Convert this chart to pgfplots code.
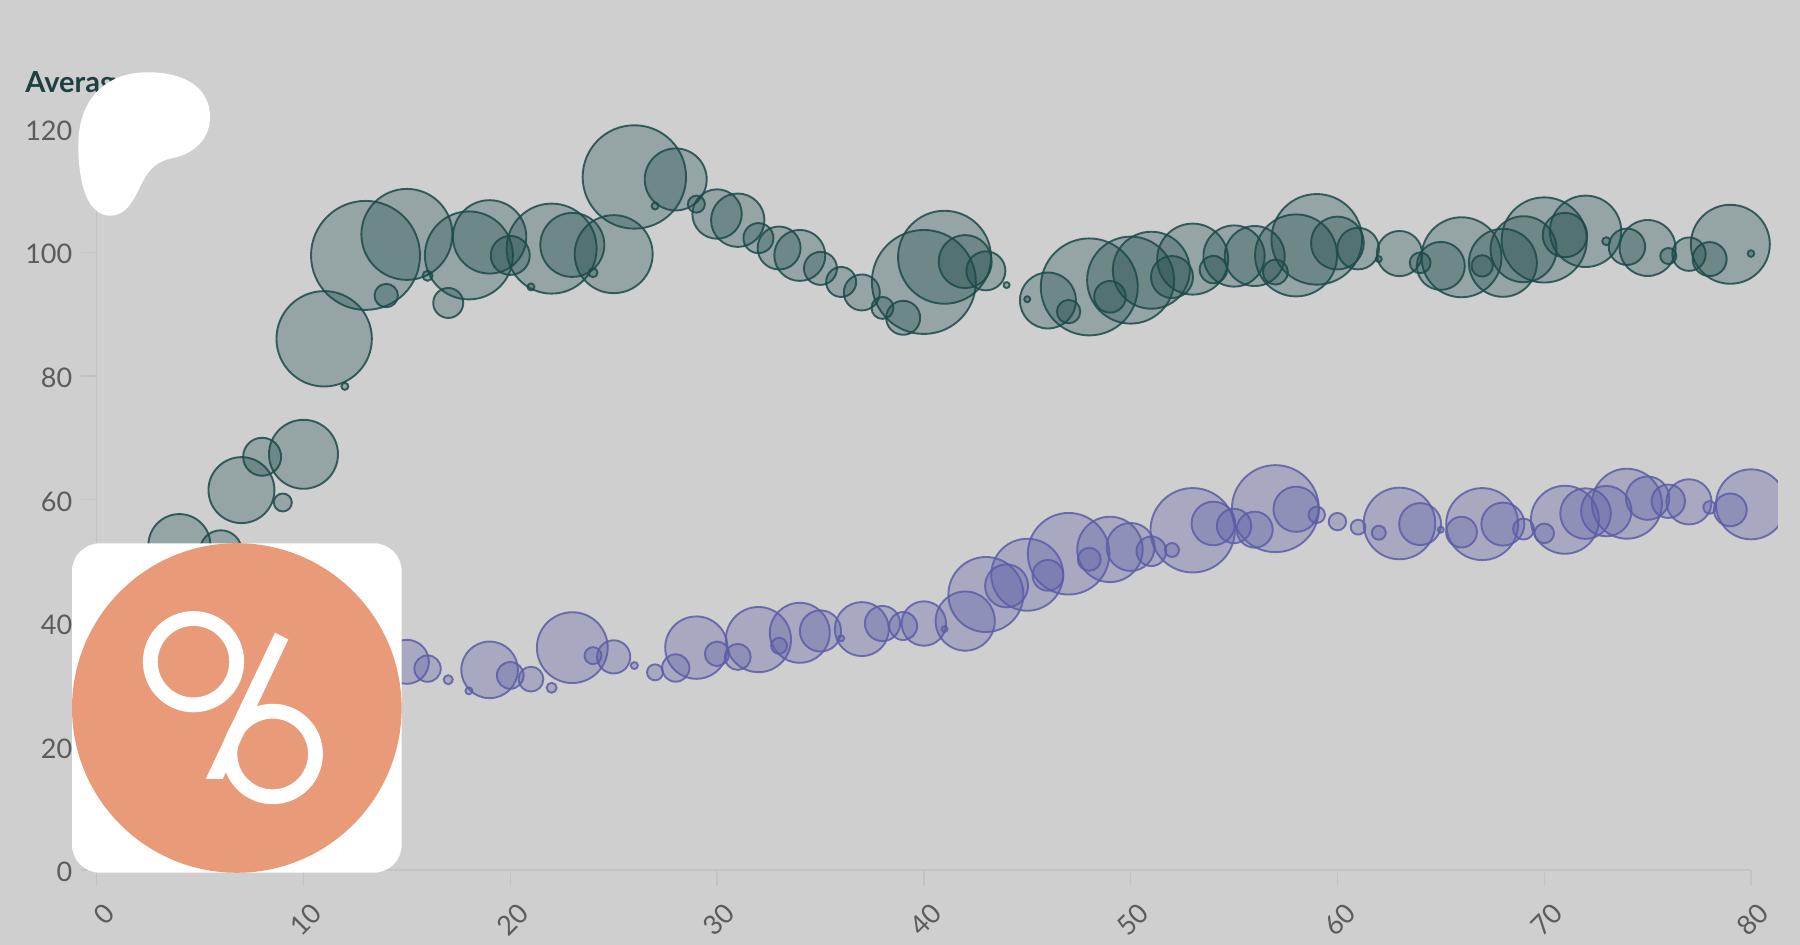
\documentclass[border=0pt]{standalone}
\usepackage{fontspec}
\setmainfont{Lato}
\usepackage{pgfplots}
\usepackage{pgfplotstable}
\pgfplotsset{compat=1.18}
\definecolor{bgc}{HTML}{CFCFCF}
\definecolor{axc}{HTML}{C3C3C3}
\definecolor{txc}{HTML}{5C5C5C}
\definecolor{titlec}{HTML}{1D4040}
\definecolor{greenS}{HTML}{1D4A4A}
\definecolor{purpS}{HTML}{5B5EA6}
\definecolor{logoc}{HTML}{E99A78}
\pgfplotstableread{
x y r
4 52.6 31
6 51.6 21
7 61.5 33
8 66.9 19
9 59.5 9
10 67.3 34.5
11 86 47.7
12 78.3 3.5
13 99.5 54.5
14 93 11.7
15 102.9 45.5
16 96.2 5
17 91.8 15
18 99.5 44
19 102.5 36.7
20 99.5 19.5
21 94.4 3.5
22 100.6 45
23 101.2 32
24 96.7 4.5
25 99.7 39
26 112.2 51.7
27 107.5 3.5
28 111.8 31
29 107.8 8.5
30 106.2 24.7
31 105.2 26.7
32 102.3 15
33 100.7 21.5
34 99.5 25.5
35 97.4 16.5
36 95.2 15
37 93.5 18
38 91 11
39 89.4 17
40 95.2 52
41 99.2 46.5
42 98.5 26.5
43 97 19.5
44 94.7 3
45 92.4 3
46 92.2 28
47 90.4 11.7
48 94.4 48.5
49 92.8 15.8
50 95.5 43.5
51 97.1 38.5
52 96 21
53 98.9 35.5
54 97.2 13.7
55 99.4 30.6
56 99.4 30
57 96.8 12.5
58 99.5 41
59 102.1 45.3
60 101.5 26.4
61 100.6 20.8
62 98.9 3
63 99.8 22.6
64 98.3 10.4
65 97.8 24
66 99.2 40
67 97.8 10.7
68 98.3 34
69 100.5 33
70 102 42.6
71 102.8 22.2
72 103.4 35.7
73 101.8 4
74 100.9 18.2
75 100.7 28
76 99.4 8
77 99.7 16.7
78 98.9 17
79 101.3 39.5
80 99.8 3.3
}\greentable
\pgfplotstableread{
x y r
15 33.7 22
16 32.6 13.2
17 30.8 4.5
18 29 3.5
19 32.4 28.3
20 31.5 13.4
21 30.9 12.4
22 29.5 5
23 36 35.4
24 34.7 8.5
25 34.5 16.6
26 33.1 3.5
27 32 8
28 32.7 13.7
29 36 31.2
30 35 12.2
31 34.5 13
32 37.3 32.6
33 36.3 8
34 38.4 30
35 38.7 20.6
36 37.5 3
37 39 27
38 39.9 17.6
39 39.5 14
40 39.9 22.2
41 39 3
42 40.3 29.6
43 44.6 37.5
44 46 21.5
45 47.8 36
46 47.7 15.4
47 51.2 40.8
48 50.3 11.5
49 51.9 32.7
50 52.3 24
51 51.6 14.8
52 51.8 7
53 55 42.2
54 56.1 21.8
55 55.7 17.2
56 55.1 18
57 58.5 43.5
58 58.4 22.6
59 57.5 8.2
60 56.4 8.7
61 55.5 7.4
62 54.6 7
63 56.1 35.8
64 56 21
65 55.1 3
66 54.7 15.4
67 56 36
68 56 21.5
69 55.2 10.5
70 54.5 9.8
71 56.7 34
72 57.7 25.3
73 58.1 25.2
74 59.3 35
75 60.2 21.7
76 59.7 16.7
77 59.6 22.6
78 58.7 6.3
79 58.3 16.4
80 59.2 35
}\purptable
\begin{document}
\begin{tikzpicture}[x=1pt,y=1pt]
\fill[bgc] (0,0) rectangle (900,472.5);
\path[use as bounding box] (0,0) rectangle (900,472.5);
\begin{axis}[
  at={(48.35pt,37.5pt)}, anchor=south west,
  scale only axis, width=827.15pt, height=370.6pt,
  xmin=0, xmax=80, ymin=0, ymax=120,
  axis x line*=bottom, axis y line*=left,
  axis line style={axc, line width=0.7pt, -},
  clip=false,
  xtick={0,10,...,80}, ytick={0,20,...,120},
  tick align=outside, major tick length=8pt,
  tick style={axc, line width=0.7pt},
  /pgf/number format/assume math mode=true,
  ticklabel style={font=\fontsize{13.5}{16}\selectfont, text=txc},
  yticklabel style={anchor=east, inner sep=0pt, xshift=-4pt, yshift=-1pt},
  xticklabel style={rotate=45, anchor=east, inner sep=0pt, xshift=-3pt, yshift=-12.5pt},
]
\addplot[scatter, only marks, mark=*,
  scatter/use mapped color={draw=greenS,fill=greenS},
  visualization depends on={0.5*\thisrow{r} \as \perpointr},
  scatter/@pre marker code/.append style={/tikz/mark size=\perpointr},
  mark options={fill opacity=0.32, draw opacity=0.85, line width=0.95pt}]
  table[x=x,y=y] {\greentable};
\addplot[scatter, only marks, mark=*,
  scatter/use mapped color={draw=purpS,fill=purpS},
  visualization depends on={0.5*\thisrow{r} \as \perpointr},
  scatter/@pre marker code/.append style={/tikz/mark size=\perpointr},
  mark options={fill opacity=0.33, draw opacity=0.85, line width=0.95pt}]
  table[x=x,y=y] {\purptable};
\end{axis}
% clip of the plotting area on the right
\fill[bgc] (889,60) rectangle (900,300);
% title
\node[anchor=base west, inner sep=0pt, text=titlec, font=\fontsize{14.5}{16}\selectfont\bfseries] at (12.5,426.4) {Average};
% overlays, coordinates in reference pixels
\begin{scope}[x=0.5pt,y=-0.5pt,shift={(0pt,472.5pt)}]
\fill[white] (146.7,72.3) .. controls (185,72) and (210,88) .. (210,116.7)
  .. controls (210,140) and (193,154) .. (173,158)
  .. controls (158,161) and (150,168) .. (143,181)
  .. controls (135,197) and (128,215.7) .. (110,215.7)
  .. controls (88,215.7) and (78.3,185) .. (78.3,145)
  .. controls (78.3,100) and (105,72.6) .. (146.7,72.3) -- cycle;
\fill[white, rounded corners=14pt] (72,543.3) rectangle (401.7,872.7);
\fill[logoc] (236.8,708) circle[radius=82.4pt];
\draw[white, line width=7.4pt] (193.5,661.7) circle[radius=21.6pt];
\draw[white, line width=7.4pt] (272.7,754) circle[radius=21.4pt];
\fill[white] (275,632.7) -- (288.3,639.3) -- (222.7,779) -- (205.7,779) -- cycle;
\end{scope}
\end{tikzpicture}
\end{document}
